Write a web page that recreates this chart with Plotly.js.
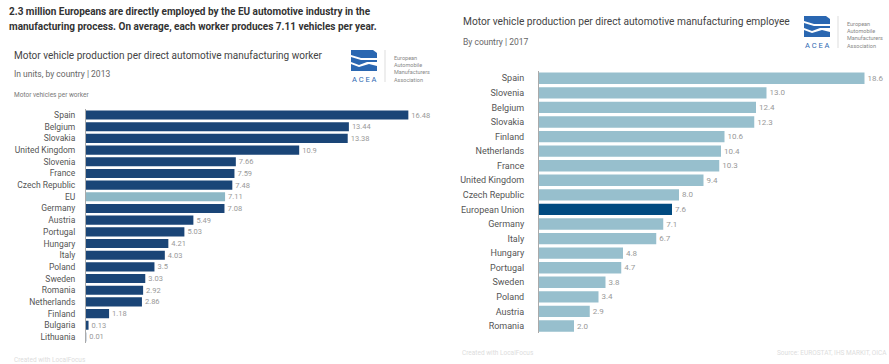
<!DOCTYPE html>
<html>
<head>
<meta charset="utf-8">
<script src="https://cdn.plot.ly/plotly-3.0.1.min.js"></script>
<style>html,body{margin:0;padding:0;background:#fff;}#chart{width:889px;height:364px;}</style>
</head>
<body>
<div id="chart"></div>
<script>
// ---- Data ----
const leftCountries = ["Spain","Belgium","Slovakia","United Kingdom","Slovenia","France","Czech Republic","EU","Germany","Austria","Portugal","Hungary","Italy","Poland","Sweden","Romania","Netherlands","Finland","Bulgaria","Lithuania"];
const leftValues = [16.48,13.44,13.38,10.9,7.66,7.59,7.48,7.11,7.08,5.49,5.03,4.21,4.03,3.5,3.03,2.92,2.86,1.18,0.13,0.01];
const leftHighlight = "EU";

const rightCountries = ["Spain","Slovenia","Belgium","Slovakia","Finland","Netherlands","France","United Kingdom","Czech Republic","European Union","Germany","Italy","Hungary","Portugal","Sweden","Poland","Austria","Romania"];
const rightValues = [18.6,13.0,12.4,12.3,10.6,10.4,10.3,9.4,8.0,7.6,7.1,6.7,4.8,4.7,3.8,3.4,2.9,2.0];
const rightHighlight = "European Union";

// ---- Layout helpers ----
const W = 889, H = 364;
const px = x => x / W;
const py = y => 1 - y / H;
const FONT = "Roboto, 'Open Sans', sans-serif";

const leftDark = "#1a4577", leftLight = "#8db8c6";
const rightLight = "#97bfcd", rightDark = "#004a80";

const traces = [
  {
    type: "bar", orientation: "h",
    x: leftValues, y: leftCountries,
    xaxis: "x", yaxis: "y",
    marker: {color: leftCountries.map(c => c === leftHighlight ? leftLight : leftDark), line: {width: 0}},
    text: leftValues.map(v => String(v)),
    textposition: "outside", cliponaxis: false,
    textfont: {family: FONT, size: 7.5, color: "#999"},
    hoverinfo: "skip"
  },
  {
    type: "bar", orientation: "h",
    x: rightValues, y: rightCountries,
    xaxis: "x2", yaxis: "y2",
    marker: {color: rightCountries.map(c => c === rightHighlight ? rightDark : rightLight), line: {width: 0}},
    text: rightValues.map(v => v.toFixed(1)),
    textposition: "outside", cliponaxis: false,
    textfont: {family: FONT, size: 8, color: "#999"},
    hoverinfo: "skip"
  }
];

function ann(text, x, y, size, color, opts) {
  return Object.assign({
    text: text, xref: "paper", yref: "paper", x: px(x), y: py(y),
    xanchor: "left", yanchor: "middle", showarrow: false,
    font: {family: FONT, size: size, color: color}
  }, opts || {});
}

function logo(x0, y0) {
  const blue = "#2a67b1";
  const pth = pts => "M" + pts.map(p => px(x0 + p[0]) + "," + py(y0 + p[1])).join(" L") + " Z";
  const shapes = [
    {type: "path", xref: "paper", yref: "paper", path: pth([[0,0],[22,0],[26,3],[26,8],[10,8],[0,5]]), fillcolor: blue, line: {width: 0}},
    {type: "path", xref: "paper", yref: "paper", path: pth([[0,7],[10,10],[26,10],[26,12],[16,12],[8,15],[0,12]]), fillcolor: blue, line: {width: 0}},
    {type: "path", xref: "paper", yref: "paper", path: pth([[0,14],[8,17],[18,14],[26,16],[26,21],[0,21]]), fillcolor: blue, line: {width: 0}},
    {type: "line", xref: "paper", yref: "paper", x0: px(x0 + 34), x1: px(x0 + 34), y0: py(y0), y1: py(y0 + 32), line: {color: "#dddddd", width: 1}}
  ];
  const anns = [
    ann("A C E A", x0 - 1, y0 + 29, 7.5, blue),
    ann("European", x0 + 41, y0 + 8, 5.5, "#888"),
    ann("Automobile", x0 + 41, y0 + 15, 5.5, "#888"),
    ann("Manufacturers", x0 + 41, y0 + 22, 5.5, "#888"),
    ann("Association", x0 + 41, y0 + 30, 5.5, "#888")
  ];
  return {shapes, anns};
}

const logoL = logo(351, 50);
const logoR = logo(804, 16);

const annotations = [
  ann("<b>2.3 million Europeans are directly employed by the EU automotive industry in the</b>", 7, 12, 10, "#333"),
  ann("<b>manufacturing process. On average, each worker produces 7.11 vehicles per year.</b>", 7, 27, 10, "#333"),
  ann("Motor vehicle production per direct automotive manufacturing worker", 12, 55, 10, "#444"),
  ann("In units, by country | 2013", 12, 74, 8.5, "#666"),
  ann("Motor vehicles per worker", 12, 95, 6.5, "#777"),
  ann("Created with LocalFocus", 12, 360, 6.5, "#ddd"),
  ann("Motor vehicle production per direct automotive manufacturing employee", 461, 21, 10.2, "#444"),
  ann("By country | 2017", 461, 42, 8.5, "#666"),
  ann("Created with LocalFocus", 460, 353, 6.5, "#ddd"),
  ann("Source: EUROSTAT, IHS MARKIT, OICA", 889, 353, 6.5, "#ddd", {xanchor: "right"})
].concat(logoL.anns, logoR.anns);

const layout = {
  width: W, height: H,
  margin: {l: 0, r: 0, t: 0, b: 0},
  paper_bgcolor: "#fff", plot_bgcolor: "rgba(0,0,0,0)",
  showlegend: false,
  bargap: 0.22,
  font: {family: FONT},
  xaxis: {domain: [px(86), px(440)], range: [0, 354 / 19.56], visible: false, fixedrange: true},
  yaxis: {domain: [py(342.8), py(109.2)], autorange: "reversed", anchor: "x", showline: true, linecolor: "#aaa", linewidth: 1,
          ticks: "", showgrid: false, zeroline: false, tickfont: {family: FONT, size: 8.5, color: "#555"}, ticklabelstandoff: 8},
  xaxis2: {domain: [px(539), 1], range: [0, 350 / 17.5], visible: false, fixedrange: true},
  yaxis2: {domain: [py(333.3), py(71)], autorange: "reversed", anchor: "x2", showline: true, linecolor: "#aaa", linewidth: 1,
           ticks: "", showgrid: false, zeroline: false, tickfont: {family: FONT, size: 9, color: "#555"}, ticklabelstandoff: 12},
  annotations: annotations,
  shapes: logoL.shapes.concat(logoR.shapes)
};

Plotly.newPlot("chart", traces, layout, {staticPlot: true, displayModeBar: false});
</script>
</body>
</html>
